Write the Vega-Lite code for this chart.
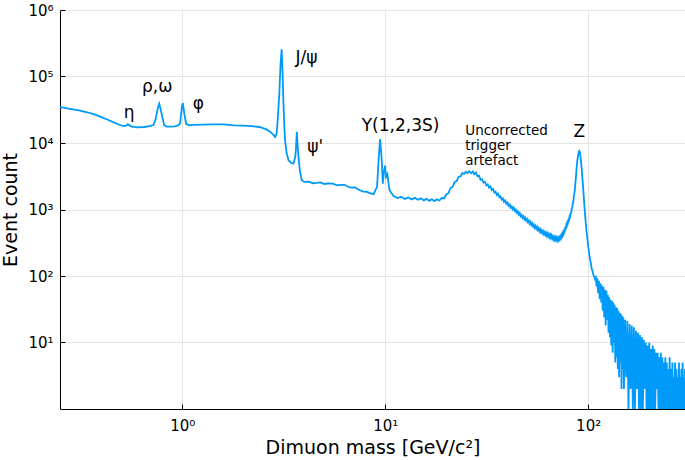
{
  "$schema": "https://vega.github.io/schema/vega-lite/v6.json",
  "width": 625,
  "height": 399,
  "autosize": {"type": "none"},
  "padding": {"left": 60, "top": 10, "right": 0, "bottom": 51},
  "config": {"view": {"stroke": null}, "font": "DejaVu Sans"},
  "datasets": {
    "spectrum": [
      {"mass":0.25,"count":34700},{"mass":0.28,"count":32600},{"mass":0.31,"count":30900},{"mass":0.34,"count":29000},{"mass":0.37,"count":26900},{"mass":0.40,"count":24500},{"mass":0.43,"count":22400},{"mass":0.46,"count":20400},{"mass":0.49,"count":18800},{"mass":0.515,"count":18000},{"mass":0.53,"count":18200},{"mass":0.54,"count":19200},{"mass":0.55,"count":18400},{"mass":0.565,"count":17600},{"mass":0.60,"count":17200},{"mass":0.65,"count":17400},{"mass":0.69,"count":18000},{"mass":0.722,"count":18600},{"mass":0.74,"count":23000},{"mass":0.75,"count":28200},{"mass":0.762,"count":35000},{"mass":0.77,"count":38900},{"mass":0.78,"count":34000},{"mass":0.794,"count":26300},{"mass":0.815,"count":18600},{"mass":0.84,"count":17600},{"mass":0.873,"count":17600},{"mass":0.92,"count":17800},{"mass":0.96,"count":18500},{"mass":0.977,"count":20000},{"mass":0.997,"count":35500},{"mass":1.008,"count":39800},{"mass":1.023,"count":28200},{"mass":1.046,"count":19300},{"mass":1.08,"count":18600},{"mass":1.15,"count":18700},{"mass":1.25,"count":18900},{"mass":1.4,"count":19000},{"mass":1.6,"count":19000},{"mass":1.8,"count":18400},{"mass":2.0,"count":18200},{"mass":2.2,"count":18000},{"mass":2.4,"count":17400},{"mass":2.6,"count":16000},{"mass":2.71,"count":14800},{"mass":2.8,"count":13500},{"mass":2.87,"count":12300},{"mass":2.92,"count":14000},{"mass":2.96,"count":24000},{"mass":3.01,"count":56200},{"mass":3.05,"count":150000},{"mass":3.09,"count":257000},{"mass":3.12,"count":120000},{"mass":3.15,"count":44700},{"mass":3.18,"count":20000},{"mass":3.21,"count":11100},{"mass":3.27,"count":7000},{"mass":3.34,"count":5500},{"mass":3.45,"count":5000},{"mass":3.53,"count":4900},{"mass":3.6,"count":6000},{"mass":3.63,"count":7760},{"mass":3.67,"count":14800},{"mass":3.70,"count":9500},{"mass":3.74,"count":6170},{"mass":3.8,"count":3800},{"mass":3.88,"count":2750},{"mass":4.0,"count":2600},{"mass":4.2,"count":2620},{"mass":4.3,"count":2560},{"mass":4.4,"count":2480},{"mass":4.6,"count":2510},{"mass":4.8,"count":2560},{"mass":5.0,"count":2420},{"mass":5.2,"count":2460},{"mass":5.5,"count":2450},{"mass":5.8,"count":2300},{"mass":6.0,"count":2340},{"mass":6.3,"count":2350},{"mass":6.6,"count":2180},{"mass":6.8,"count":2140},{"mass":7.1,"count":2150},{"mass":7.5,"count":1950},{"mass":7.8,"count":1860},{"mass":8.1,"count":1850},{"mass":8.4,"count":1760},{"mass":8.77,"count":1700},{"mass":9.12,"count":2190},{"mass":9.3,"count":6170},{"mass":9.44,"count":11500},{"mass":9.62,"count":5500},{"mass":9.73,"count":2450},{"mass":9.88,"count":3890},{"mass":9.99,"count":4570},{"mass":10.1,"count":3090},{"mass":10.25,"count":3390},{"mass":10.5,"count":1950},
      {"mass":11,"count":1596},{"mass":11.5,"count":1486},{"mass":12,"count":1552},{"mass":12.5,"count":1442},{"mass":13,"count":1517},{"mass":13.5,"count":1419},{"mass":14,"count":1496},{"mass":14.5,"count":1403},{"mass":15,"count":1472},{"mass":15.5,"count":1371},{"mass":16,"count":1445},{"mass":16.5,"count":1349},{"mass":17,"count":1426},{"mass":17.5,"count":1340},{"mass":18,"count":1422},{"mass":18.5,"count":1365},{"mass":19,"count":1489},{"mass":19.5,"count":1469},{"mass":20,"count":1690},{"mass":20.5,"count":1766},{"mass":21,"count":2104},{"mass":21.5,"count":2198},{"mass":22,"count":2588},{"mass":22.5,"count":2673},{"mass":23,"count":3112},{"mass":23.5,"count":3141},{"mass":24,"count":3532},{"mass":24.5,"count":3428},{"mass":25,"count":3698},{"mass":25.5,"count":3524},{"mass":26,"count":3741},{"mass":26.5,"count":3508},
      {"mass":27,"count":3733},{"mass":27.5,"count":3396},{"mass":28,"count":3606},{"mass":28.5,"count":3148},{"mass":29,"count":3214},{"mass":29.5,"count":2805},{"mass":30,"count":2864},{"mass":30.5,"count":2529},{"mass":31,"count":2612},{"mass":31.5,"count":2307},{"mass":32,"count":2382},{"mass":32.5,"count":2128},{"mass":33,"count":2223},{"mass":33.5,"count":1963},{"mass":34,"count":2028},{"mass":34.5,"count":1791},{"mass":35,"count":1849},{"mass":35.5,"count":1652},{"mass":36,"count":1726},{"mass":36.5,"count":1524},{"mass":37,"count":1574},{"mass":37.5,"count":1406},{"mass":38,"count":1469},{"mass":38.5,"count":1312},{"mass":39,"count":1371},{"mass":39.5,"count":1225},{"mass":40,"count":1279},{"mass":40.5,"count":1143},{"mass":41,"count":1194},{"mass":41.5,"count":1067},{"mass":42,"count":1114},{"mass":42.5,"count":1007},{"mass":43,"count":1064},{"mass":43.5,"count":951},{"mass":44,"count":993},{"mass":44.5,"count":893},{"mass":45,"count":938},{"mass":45.5,"count":843},{"mass":46,"count":885},{"mass":46.5,"count":791},{"mass":47,"count":826},{"mass":47.5,"count":746},{"mass":48,"count":789},{"mass":48.5,"count":713},{"mass":49,"count":753},{"mass":49.5,"count":681},{"mass":50,"count":719},{"mass":50.5,"count":647},{"mass":51,"count":679},{"mass":51.5,"count":614},{"mass":52,"count":649},{"mass":52.5,"count":586},{"mass":53,"count":619},{"mass":53.5,"count":560},{"mass":54,"count":592},{"mass":54.5,"count":535},{"mass":55,"count":565},{"mass":55.5,"count":514},{"mass":56,"count":546},{"mass":56.5,"count":493},{"mass":57,"count":521},{"mass":57.5,"count":474},{"mass":58,"count":504},{"mass":58.5,"count":458},{"mass":59,"count":486},{"mass":59.5,"count":443},{"mass":60,"count":470},{"mass":60.5,"count":428},{"mass":61,"count":454},{"mass":61.5,"count":415},{"mass":62,"count":444},{"mass":62.5,"count":406},{"mass":63,"count":434},{"mass":63.5,"count":396},{"mass":64,"count":424},{"mass":64.5,"count":387},{"mass":65,"count":414},{"mass":65.5,"count":378},{"mass":66,"count":405},{"mass":66.5,"count":368},{"mass":67,"count":391},{"mass":67.5,"count":357},{"mass":68,"count":382},{"mass":68.5,"count":352},{"mass":69,"count":378},{"mass":69.5,"count":348},{"mass":70,"count":373},{"mass":70.5,"count":345},{"mass":71,"count":373},{"mass":71.5,"count":348},{"mass":72,"count":378},{"mass":72.5,"count":356},{"mass":73,"count":391},{"mass":73.5,"count":372},{"mass":74,"count":414},{"mass":74.5,"count":396},{"mass":75,"count":444},{"mass":75.5,"count":425},{"mass":76,"count":475},{"mass":76.5,"count":460},{"mass":77,"count":521},{"mass":77.5,"count":511},{"mass":78,"count":585},{"mass":78.5,"count":566},{"mass":79,"count":641},{"mass":79.5,"count":621},{"mass":80,"count":703},{"mass":80.5,"count":689},{"mass":81,"count":789},{"mass":81.5,"count":773},{"mass":82,"count":885},{"mass":82.5,"count":887},{"mass":83,"count":1040},{"mass":83.5,"count":1054},{"mass":84,"count":1250},{"mass":84.5,"count":1297},{"mass":85,"count":1574},{"mass":85.5,"count":1738},{"mass":86,"count":1995},{"mass":87,"count":3020},{"mass":88,"count":4786},{"mass":89,"count":6310},{"mass":90,"count":7413},{"mass":90.5,"count":7586},{"mass":91,"count":7244},{"mass":92,"count":5623},{"mass":93,"count":3981},{"mass":94,"count":2630},{"mass":95,"count":1660},{"mass":96,"count":1047},
      {"mass":97,"count":700},{"mass":98,"count":500},{"mass":99,"count":380},{"mass":100,"count":280},{"mass":101,"count":230},{"mass":102,"count":180},{"mass":103,"count":160},{"mass":104,"count":130},{"mass":105,"count":120},{"mass":106,"count":105},{"mass":107,"count":98},{"mass":108,"count":90},{"mass":109,"count":95},{"mass":110,"count":70},{"mass":111,"count":92},{"mass":112,"count":55},{"mass":113,"count":85},{"mass":114,"count":45},{"mass":115,"count":78},{"mass":116,"count":40},{"mass":117,"count":72},{"mass":118,"count":30},{"mass":119,"count":68},{"mass":120,"count":24},{"mass":121,"count":62},{"mass":122,"count":18},{"mass":123,"count":60},{"mass":124,"count":22},{"mass":125,"count":52},{"mass":126,"count":14},{"mass":127,"count":48},{"mass":128,"count":12},{"mass":129,"count":44},{"mass":130,"count":9},{"mass":131,"count":42},{"mass":132,"count":7},{"mass":133,"count":40},{"mass":134,"count":10},{"mass":135,"count":37},{"mass":136,"count":5},{"mass":137,"count":34},{"mass":138,"count":6},{"mass":139,"count":33},{"mass":140,"count":4},{"mass":141,"count":30},{"mass":142,"count":3},{"mass":143,"count":28},{"mass":144,"count":5},{"mass":145,"count":27},{"mass":146,"count":2},{"mass":147,"count":25},{"mass":148,"count":4},{"mass":149,"count":24},{"mass":150,"count":2},{"mass":152,"count":22},{"mass":154,"count":3},{"mass":156,"count":21},{"mass":158,"count":1},{"mass":160,"count":19},{"mass":162,"count":2},{"mass":164,"count":18},{"mass":166,"count":1},{"mass":168,"count":17},{"mass":170,"count":1},{"mass":172,"count":15},{"mass":174,"count":2},{"mass":176,"count":14},{"mass":178,"count":1},{"mass":180,"count":13},{"mass":182,"count":1},{"mass":184,"count":12},{"mass":186,"count":1},{"mass":188,"count":11},{"mass":190,"count":2},{"mass":192,"count":10},{"mass":194,"count":1},{"mass":196,"count":9},{"mass":198,"count":1},{"mass":200,"count":10},{"mass":202,"count":1},{"mass":204,"count":8},{"mass":206,"count":1},{"mass":208,"count":9},{"mass":210,"count":1},{"mass":212,"count":8},{"mass":214,"count":1},{"mass":216,"count":7},{"mass":218,"count":2},{"mass":220,"count":7},{"mass":222,"count":1},{"mass":224,"count":6},{"mass":226,"count":1},{"mass":228,"count":7},{"mass":230,"count":1},{"mass":232,"count":6},{"mass":234,"count":1},{"mass":236,"count":5},{"mass":238,"count":1},{"mass":240,"count":6},{"mass":242,"count":1},{"mass":244,"count":5},{"mass":246,"count":1},{"mass":248,"count":4},{"mass":250,"count":1},{"mass":252,"count":6},{"mass":254,"count":1},{"mass":256,"count":4},{"mass":258,"count":1},{"mass":260,"count":5},{"mass":262,"count":1},{"mass":264,"count":3},{"mass":266,"count":1},{"mass":268,"count":5},{"mass":270,"count":1},{"mass":272,"count":4},{"mass":274,"count":1},{"mass":276,"count":3},{"mass":278,"count":1},{"mass":280,"count":5},{"mass":282,"count":1},{"mass":284,"count":3},{"mass":286,"count":1},{"mass":288,"count":4},{"mass":290,"count":1},{"mass":292,"count":5},{"mass":294,"count":1},{"mass":296,"count":3},{"mass":298,"count":1},{"mass":300,"count":4}
    ],
    "labels": [
      {"label":"η","mass":0.548,"count":28000},
      {"label":"ρ,ω","mass":0.753,"count":69000},
      {"label":"φ","mass":1.2,"count":39000},
      {"label":"J/ψ","mass":4.1,"count":190000},
      {"label":"ψ'","mass":4.52,"count":8800},
      {"label":"Υ(1,2,3S)","mass":11.9,"count":18000},
      {"label":"Z","mass":90.5,"count":14800}
    ],
    "note": [
      {"label":"Uncorrected\ntrigger\nartefact","mass":24.8,"count":15300}
    ]
  },
  "layer": [
    {
      "data": {"name": "spectrum"},
      "mark": {"type": "line", "color": "#009AFA", "strokeWidth": 1.8, "clip": true},
      "encoding": {
        "x": {
          "field": "mass", "type": "quantitative",
          "scale": {"type": "log", "domain": [0.25, 300], "nice": false},
          "axis": {
            "values": [1, 10, 100],
            "labelExpr": "'10' + ['⁰','¹','²','³','⁴','⁵','⁶'][round(log(datum.value)/LN10)]",
            "grid": true, "gridColor": "#e4e4e4", "gridWidth": 1,
            "domainColor": "#000000", "domainWidth": 1,
            "tickColor": "#000000", "tickSize": -5, "tickWidth": 1,
            "labelFontSize": 15, "labelColor": "#000000", "labelPadding": 14,
            "titleFontSize": 19, "titleFontWeight": "normal", "titleColor": "#000000", "titlePadding": 5
          },
          "title": "Dimuon mass [GeV/c²]"
        },
        "y": {
          "field": "count", "type": "quantitative",
          "scale": {"type": "log", "domain": [1, 1000000], "nice": false},
          "axis": {
            "values": [10, 100, 1000, 10000, 100000, 1000000],
            "labelExpr": "'10' + ['⁰','¹','²','³','⁴','⁵','⁶'][round(log(datum.value)/LN10)]",
            "grid": true, "gridColor": "#e4e4e4", "gridWidth": 1,
            "domainColor": "#000000", "domainWidth": 1,
            "tickColor": "#000000", "tickSize": -5, "tickWidth": 1,
            "labelFontSize": 15, "labelColor": "#000000", "labelPadding": 12,
            "titleFontSize": 19, "titleFontWeight": "normal", "titleColor": "#000000", "titlePadding": 7
          },
          "title": "Event count"
        }
      }
    },
    {
      "data": {"name": "labels"},
      "mark": {"type": "text", "fontSize": 17, "color": "#000000", "align": "center", "baseline": "middle"},
      "encoding": {
        "x": {"field": "mass", "type": "quantitative"},
        "y": {"field": "count", "type": "quantitative"},
        "text": {"field": "label"}
      }
    },
    {
      "data": {"name": "note"},
      "mark": {"type": "text", "fontSize": 13.5, "color": "#000000", "align": "left", "baseline": "middle", "lineBreak": "\n", "lineHeight": 15.2},
      "encoding": {
        "x": {"field": "mass", "type": "quantitative"},
        "y": {"field": "count", "type": "quantitative"},
        "text": {"field": "label"}
      }
    }
  ]
}
